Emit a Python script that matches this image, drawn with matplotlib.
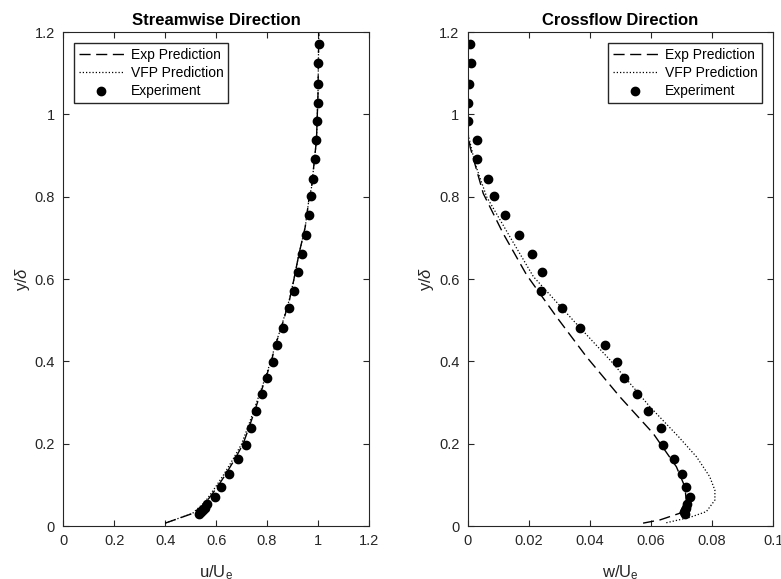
import matplotlib
matplotlib.use('Agg')
import matplotlib.pyplot as plt
from matplotlib.ticker import FormatStrFormatter

plt.rcParams['font.family'] = ['Liberation Sans', 'DejaVu Sans']
plt.rcParams['mathtext.fontset'] = 'custom'
plt.rcParams['mathtext.rm'] = 'Liberation Sans'
plt.rcParams['mathtext.it'] = 'Liberation Sans:italic'

# --- streamwise experiment (u/Ue vs y/delta)
exp_y = [1.171, 1.126, 1.074, 1.029, 0.983, 0.937, 0.891, 0.844, 0.801, 0.755,
         0.708, 0.662, 0.617, 0.572, 0.529, 0.481, 0.440, 0.399, 0.359, 0.320,
         0.279, 0.239, 0.198, 0.162, 0.126, 0.095, 0.070, 0.053, 0.045, 0.040,
         0.035, 0.030]
exp_u = [1.004, 1.001, 1.000, 0.999, 0.997, 0.993, 0.989, 0.982, 0.974, 0.965,
         0.952, 0.937, 0.923, 0.905, 0.885, 0.862, 0.838, 0.822, 0.800, 0.780,
         0.758, 0.737, 0.718, 0.685, 0.650, 0.618, 0.596, 0.564, 0.556, 0.548,
         0.541, 0.533]
# crossflow experiment (w/Ue)
exp_w = [0.0008, 0.0011, 0.0005, 0.0001, 0.0000, 0.0031, 0.0031, 0.0065, 0.0086, 0.0122,
         0.0167, 0.0211, 0.0242, 0.0240, 0.0308, 0.0367, 0.0449, 0.0489, 0.0513, 0.0554,
         0.0591, 0.0634, 0.0640, 0.0675, 0.0700, 0.0714, 0.0729, 0.0719, 0.0713, 0.0710,
         0.0708, 0.0712]

# --- predictions, streamwise
pred_u_y = [0.007, 0.031, 0.059, 0.095, 0.126, 0.162, 0.198, 0.239, 0.279, 0.32,
            0.36, 0.403, 0.44, 0.48, 0.549, 0.598, 0.66, 0.727, 0.792, 0.824,
            0.938, 1.05, 1.2]
exp_pred_u = [0.400, 0.510, 0.562, 0.605, 0.638, 0.673, 0.705, 0.729, 0.751, 0.773,
              0.795, 0.818, 0.833, 0.855, 0.888, 0.905, 0.925, 0.950, 0.964, 0.975,
              0.994, 1.000, 1.003]
vfp_pred_u = [0.400, 0.508, 0.557, 0.598, 0.631, 0.666, 0.699, 0.724, 0.747, 0.770,
              0.793, 0.816, 0.832, 0.854, 0.887, 0.905, 0.925, 0.950, 0.964, 0.975,
              0.994, 1.000, 1.003]

# --- predictions, crossflow
exp_pred_wy = [0.007, 0.015, 0.031, 0.055, 0.095, 0.144, 0.225, 0.314, 0.411, 0.508,
               0.610, 0.711, 0.808, 0.921, 0.96, 1.2]
exp_pred_w = [0.0574, 0.0630, 0.0694, 0.0716, 0.0711, 0.0683, 0.0607, 0.0498, 0.0389, 0.0291,
              0.0193, 0.0116, 0.0051, 0.0008, 0.0, 0.0]
vfp_pred_wy = [0.008, 0.010, 0.021, 0.035, 0.063, 0.087, 0.12, 0.168, 0.217, 0.29,
               0.40, 0.50, 0.606, 0.703, 0.80, 0.881, 0.95, 1.0, 1.2]
vfp_pred_w = [0.0650, 0.0662, 0.0727, 0.0781, 0.0809, 0.0809, 0.0792, 0.0749, 0.0690, 0.0596,
              0.0470, 0.0345, 0.0215, 0.0138, 0.0062, 0.0024, 0.0002, 0.0, 0.0]

ink = '#262626'

fig = plt.figure(figsize=(7.81, 5.79), dpi=100)
ax1 = fig.add_axes([0.081, 0.0915, 0.3914, 0.853])
ax2 = fig.add_axes([0.5988, 0.0915, 0.3913, 0.853])


def style(ax, xlim, xticks, xlabel, title):
    ax.set_xlim(*xlim)
    ax.set_ylim(0, 1.2)
    ax.set_xticks(xticks)
    ax.set_yticks([0, 0.2, 0.4, 0.6, 0.8, 1.0, 1.2])
    ax.xaxis.set_major_formatter(FormatStrFormatter('%g'))
    ax.yaxis.set_major_formatter(FormatStrFormatter('%g'))
    ax.tick_params(direction='in', top=True, right=True, length=4, width=0.8,
                   colors=ink, labelsize=10.5, pad=6)
    for s in ax.spines.values():
        s.set_color(ink)
        s.set_linewidth(0.8)
    ax.set_xlabel(xlabel, fontsize=12, color=ink, labelpad=10.5)
    ax.set_ylabel(r'y/$\delta$', fontsize=12, color=ink, labelpad=2)
    ax.set_title(title, fontsize=12, fontweight='bold', pad=5)


def legend(ax, loc):
    ax.legend(loc=loc, fontsize=10, handlelength=3.2, fancybox=False,
              edgecolor=ink, framealpha=1, borderaxespad=0.8, labelspacing=0.3,
              handletextpad=0.5, borderpad=0.35)


ax1.plot(exp_pred_u, pred_u_y, color='k', lw=1.0, ls=(0, (8, 4)), label='Exp Prediction')
ax1.plot(vfp_pred_u, pred_u_y, color='k', lw=0.9, ls=(0, (1, 1.6)), label='VFP Prediction')
ax1.plot(exp_u, exp_y, 'o', color='k', ms=6, ls='none', label='Experiment')
style(ax1, (0, 1.2), [0, 0.2, 0.4, 0.6, 0.8, 1.0, 1.2], r'u/U$_\mathrm{e}$', 'Streamwise Direction')
legend(ax1, 'upper left')

ax2.plot(exp_pred_w, exp_pred_wy, color='k', lw=1.0, ls=(0, (8, 4)), label='Exp Prediction')
ax2.plot(vfp_pred_w, vfp_pred_wy, color='k', lw=0.9, ls=(0, (1, 1.6)), label='VFP Prediction')
ax2.plot(exp_w, exp_y, 'o', color='k', ms=6, ls='none', label='Experiment')
style(ax2, (0, 0.1), [0, 0.02, 0.04, 0.06, 0.08, 0.1], r'w/U$_\mathrm{e}$', 'Crossflow Direction')
legend(ax2, 'upper right')

fig.savefig('out.png', dpi=100)
